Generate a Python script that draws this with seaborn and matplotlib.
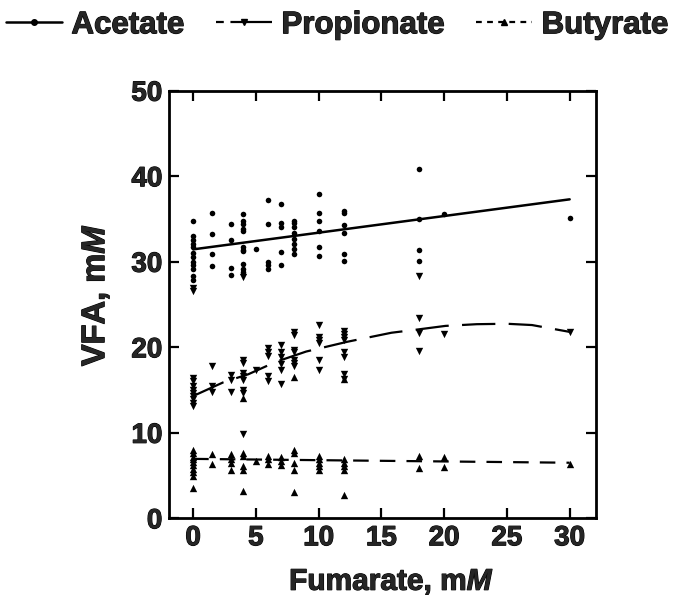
import numpy as np
import pandas as pd
import matplotlib
matplotlib.use("Agg")
import matplotlib.pyplot as plt
import matplotlib.patheffects as pe
from matplotlib.lines import Line2D
import seaborn as sns

# Точки по сериям (x = фумарат, mM; y = ЛЖК, mM)
acetate_x = [0]*12 + [1.5]*4 + [3]*4 + [4]*11 + [5] + [6]*5 + [7]*5 + [8]*8 + [10]*6 + [12]*6 + [18]*4 + [20] + [30]
acetate_y = [34.8, 33.0, 32.6, 32.1, 31.7, 31.0, 30.5, 30.0, 29.6, 29.2, 28.3, 27.9,
             35.7, 33.3, 30.9, 29.5,
             34.4, 32.6, 29.3, 28.4,
             35.6, 34.8, 34.4, 33.8, 33.6, 31.7, 31.4, 31.2, 29.7, 29.2, 28.8,
             31.5,
             37.2, 34.4, 30.0, 29.6, 29.2,
             36.7, 34.5, 34.1, 31.1, 29.6,
             34.8, 34.5, 34.1, 33.4, 32.7, 32.1, 31.5, 30.9,
             37.9, 35.7, 34.8, 33.6, 31.7, 30.7,
             35.9, 35.7, 34.3, 33.4, 30.9, 30.1,
             40.9, 35.0, 31.4, 30.1,
             35.6,
             35.1]

propionate_x = [0]*11 + [1.5]*3 + [3]*3 + [4]*9 + [5] + [6]*5 + [7]*6 + [8]*7 + [10]*6 + [12]*8 + [18]*4 + [20] + [30]
propionate_y = [26.9, 26.6, 16.4, 16.0, 15.5, 15.0, 14.6, 14.3, 13.9, 13.5, 13.1,
                17.8, 15.5, 14.8,
                16.8, 16.2, 14.8,
                28.2, 18.5, 18.2, 17.0, 16.6, 16.2, 15.0, 14.6, 9.9,
                17.4,
                19.9, 19.5, 19.0, 16.6, 16.0,
                20.3, 19.5, 18.9, 18.1, 17.4, 15.7,
                21.8, 21.4, 19.7, 19.4, 18.5, 18.2, 17.8,
                22.6, 21.2, 20.8, 20.5, 18.5, 17.3,
                21.9, 21.6, 21.2, 20.9, 19.5, 18.9, 16.9, 16.3,
                28.3, 23.4, 21.7, 19.6,
                21.6,
                21.8]

butyrate_x = [0]*10 + [1.5]*2 + [3]*4 + [4]*6 + [5] + [6]*3 + [7]*3 + [8]*6 + [10]*5 + [12]*6 + [18]*2 + [20]*2 + [30]
butyrate_y = [8.0, 7.6, 7.2, 6.9, 6.6, 6.2, 5.8, 5.4, 4.9, 3.5,
              7.5, 6.3,
              7.5, 6.95, 6.5, 5.7,
              7.6, 7.3, 6.1, 5.7, 3.2, 14.1,
              6.7,
              7.3, 6.9, 6.3,
              7.2, 6.7, 6.2,
              8.0, 7.6, 6.5, 5.7, 3.1, 16.5,
              7.3, 6.9, 6.5, 6.1, 5.7,
              6.95, 6.5, 6.1, 5.7, 2.7, 16.3,
              7.3, 5.9,
              7.2, 6.0,
              6.4]

# Линии тренда
acetate_fit_x = [0, 30]
acetate_fit_y = [31.45, 37.3]
propionate_fit_x = [0, 2.4, 4.4, 6.6, 9, 12.3, 15.8, 18, 20.1, 22.6, 25, 27, 30]
propionate_fit_y = [14.3, 15.9, 16.85, 18.3, 19.5, 20.65, 21.7, 22.1, 22.5, 22.7, 22.75, 22.6, 21.8]
butyrate_fit_x = [0, 30]
butyrate_fit_y = [6.95, 6.5]

sns.set_style("ticks")
plt.rcParams['font.family'] = ['Liberation Sans', 'DejaVu Sans']
plt.rcParams['font.weight'] = 'bold'
plt.rcParams['mathtext.fontset'] = 'custom'
plt.rcParams['mathtext.it'] = 'Liberation Sans:italic:bold'
plt.rcParams['mathtext.rm'] = 'Liberation Sans:bold'

heavy = [pe.withStroke(linewidth=0.8, foreground='black')]

fig = plt.figure(figsize=(6.74, 6.02), dpi=100)
ax = fig.add_axes([0.2512, 0.139, 0.6331, 0.7103])

ls_prop = (0, (15, 6))
ls_but = (0, (7, 5))

sns.scatterplot(x=acetate_x, y=acetate_y, marker='o', s=16, color='black', linewidth=0, ax=ax)
sns.scatterplot(x=propionate_x, y=propionate_y, marker='v', s=28, color='black', linewidth=0, ax=ax)
sns.scatterplot(x=butyrate_x, y=butyrate_y, marker='^', s=28, color='black', linewidth=0, ax=ax)

sns.lineplot(x=acetate_fit_x, y=acetate_fit_y, color='black', lw=1.8, sort=False, ax=ax)
sns.lineplot(x=propionate_fit_x, y=propionate_fit_y, color='black', lw=1.6, linestyle=ls_prop, sort=False, ax=ax)
sns.lineplot(x=butyrate_fit_x, y=butyrate_fit_y, color='black', lw=1.6, linestyle=ls_but, sort=False, ax=ax)

ax.set_xlim(-1.9, 32.1)
ax.set_ylim(0, 50)
ax.set_xticks([0, 5, 10, 15, 20, 25, 30])
ax.set_yticks([0, 10, 20, 30, 40, 50])
ax.tick_params(direction='in', length=7.5, width=1.6, top=True, right=True,
               labelsize=20, color='black')
ax.tick_params(axis='x', pad=5)
ax.tick_params(axis='y', pad=5)
for lab in ax.get_xticklabels() + ax.get_yticklabels():
    lab.set_fontweight('bold')
    lab.set_path_effects(heavy)
for sp in ax.spines.values():
    sp.set_linewidth(2.0)
    sp.set_color('black')

ax.set_xlabel('Fumarate, m$\\mathit{M}$', fontsize=21.5, fontweight='bold', path_effects=heavy)
ax.set_ylabel('VFA, m$\\mathit{M}$', fontsize=23.5, fontweight='bold', path_effects=heavy)
ax.xaxis.set_label_coords(0.521, -0.117)
ax.yaxis.set_label_coords(-0.136, 0.522)

handles = [
    Line2D([], [], color='black', lw=1.8, marker='o', markersize=4),
    Line2D([], [], color='black', lw=1.6, linestyle=(0, (3.5, 3, 20, 1)), marker='v', markersize=5),
    Line2D([], [], color='black', lw=1.6, linestyle=(0, (2.6, 2.4)), marker='^', markersize=5),
]
leg = fig.legend(handles, ['Acetate', 'Propionate', 'Butyrate'], loc='center',
                 bbox_to_anchor=(0.5, 0.958), ncol=3, frameon=False,
                 handlelength=1.8, handletextpad=0.3, columnspacing=1.0, numpoints=1,
                 prop={'weight': 'bold', 'size': 22.5})
for t in leg.get_texts():
    t.set_path_effects(heavy)

fig.savefig('out.png', dpi=100)
